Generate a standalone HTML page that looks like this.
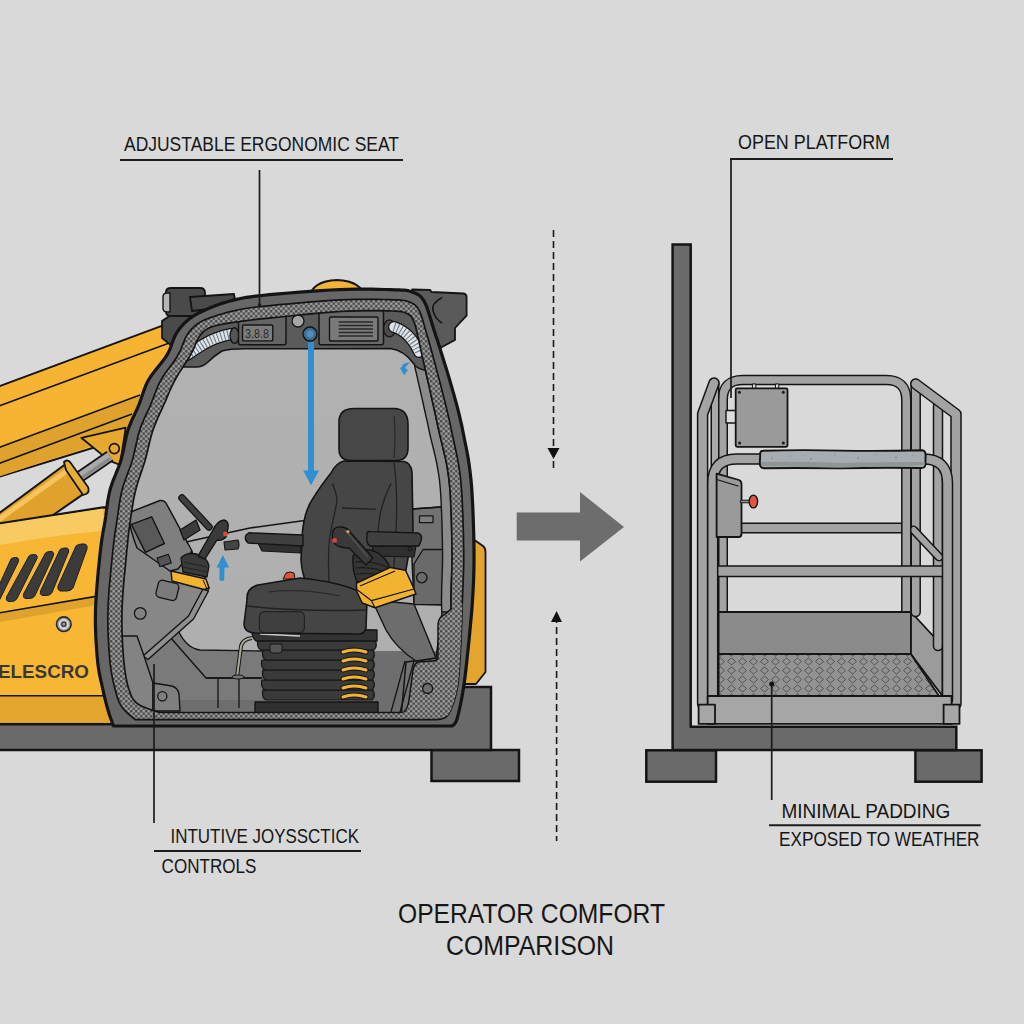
<!DOCTYPE html>
<html><head><meta charset="utf-8">
<style>
html,body{margin:0;padding:0;background:#d9d9d9;width:1024px;height:1024px;overflow:hidden}
svg{display:block}
text{font-family:"Liberation Sans",sans-serif;fill:#161616}
</style></head>
<body>
<svg width="1024" height="1024" viewBox="0 0 1024 1024">
<defs>
<pattern id="mesh" width="5" height="5" patternUnits="userSpaceOnUse">
<rect width="5" height="5" fill="#8c8c8c"/>
<circle cx="1.2" cy="1.2" r="1.35" fill="#4e4e4e"/>
<circle cx="3.7" cy="3.7" r="1.35" fill="#555"/>
<circle cx="3.7" cy="1.2" r="0.6" fill="#b4b4b4"/>
<circle cx="1.2" cy="3.7" r="0.6" fill="#aaa"/>
</pattern>
<pattern id="plate" width="11" height="9" patternUnits="userSpaceOnUse">
<rect width="11" height="9" fill="#929292"/>
<path d="M5.5,1 Q8,3 9.5,4.5 Q8,6 5.5,8 Q3,6 1.5,4.5 Q3,3 5.5,1 Z" fill="none" stroke="#4a4a4a" stroke-width="0.9"/>
</pattern>
<linearGradient id="win" x1="0" y1="0" x2="0" y2="1">
<stop offset="0" stop-color="#b2b2b2"/><stop offset="1" stop-color="#aeaeae"/>
</linearGradient>
</defs>
<rect width="1024" height="1024" fill="#d9d9d9"/>

<!-- LABELS -->
<g id="labels">
<text x="124" y="150.5" font-size="20" textLength="275" lengthAdjust="spacingAndGlyphs">ADJUSTABLE ERGONOMIC SEAT</text>
<line x1="120" y1="160" x2="403" y2="160" stroke="#1c1c1c" stroke-width="2"/>

<text x="738" y="148.7" font-size="20" textLength="152" lengthAdjust="spacingAndGlyphs">OPEN PLATFORM</text>
<line x1="730" y1="159" x2="893" y2="159" stroke="#1c1c1c" stroke-width="2"/>

<text x="781.4" y="818" font-size="19.5" textLength="169" lengthAdjust="spacingAndGlyphs">MINIMAL PADDING</text>
<line x1="769" y1="825.3" x2="980.7" y2="825.3" stroke="#1c1c1c" stroke-width="2"/>
<text x="779" y="846" font-size="19.5" textLength="200.5" lengthAdjust="spacingAndGlyphs">EXPOSED TO WEATHER</text>

<text x="170.5" y="842.5" font-size="20" textLength="188.5" lengthAdjust="spacingAndGlyphs">INTUTIVE JOYSSCTICK</text>
<line x1="154" y1="851" x2="361" y2="851" stroke="#1c1c1c" stroke-width="2"/>
<text x="161.6" y="872.7" font-size="20" textLength="94.7" lengthAdjust="spacingAndGlyphs">CONTROLS</text>

<text x="398" y="922.5" font-size="28" textLength="267" lengthAdjust="spacingAndGlyphs">OPERATOR COMFORT</text>
<text x="446" y="955" font-size="27" textLength="168" lengthAdjust="spacingAndGlyphs">COMPARISON</text>
</g>

<!-- CENTER ARROWS -->
<g id="center">
<line x1="553.5" y1="230" x2="553.5" y2="470" stroke="#1a1a1a" stroke-width="1.6" stroke-dasharray="7,4"/>
<path d="M547.5,448 L559.5,448 L553.5,459 Z" fill="#111"/>
<line x1="556.6" y1="616" x2="556.6" y2="841" stroke="#1a1a1a" stroke-width="1.6" stroke-dasharray="7,4"/>
<path d="M551,622 L562,622 L556.6,611 Z" fill="#111"/>
<path d="M516.7,512.6 L580,512.6 L580,492 L624,527 L580,561.4 L580,540.4 L516.7,540.4 Z" fill="#6d6d6d"/>
</g>

<!-- LEFT BASE -->
<g id="lbase" stroke="#141414" stroke-width="2.5" fill="#6a6a6a">
<rect x="431.5" y="750" width="87.5" height="31"/>
<path d="M-5,724 L445,724 L445,687 L491,687 L491,750 L-5,750 Z"/>
</g>
<!-- MACHINE -->
<g id="machine" stroke-linejoin="round">
<!-- boom -->
<path d="M-5,387.9 L190,315.4 L190,418 L-5,478 Z" fill="#f6b432" stroke="#141414" stroke-width="2"/>
<path d="M-5,449 L140,395 L140,430 L-5,478 Z" fill="#dfa22c"/>
<g stroke="#141414" stroke-width="1.6" fill="none">
<line x1="-5" y1="407.4" x2="172" y2="342"/>
<line x1="-5" y1="448.9" x2="140" y2="395"/>
<line x1="-5" y1="464.9" x2="132" y2="414"/>
</g>
<!-- bracket -->
<path d="M81.3,437.8 L125.7,427.6 L120,465 L109.2,460.6 Z" fill="#e6a82e" stroke="#141414" stroke-width="1.8"/>
<circle cx="114.3" cy="448.6" r="5" fill="#e6a82e" stroke="#141414" stroke-width="1.6"/>
<!-- rod -->
<path d="M78,478 L110,456" stroke="#141414" stroke-width="12" stroke-linecap="butt"/>
<path d="M78,478 L110,456" stroke="#a9a9a9" stroke-width="8.5" stroke-linecap="butt"/>
<path d="M78,480.5 L110,458.5" stroke="#888" stroke-width="3" stroke-linecap="butt"/>
<!-- cylinder -->
<path d="M-10,520 L66,463.8 L87.6,491.1 L10,545 Z" fill="#e0a22c" stroke="#141414" stroke-width="2"/>
<path d="M-10,526 L68,470" stroke="#f6c45a" stroke-width="5"/>
<path d="M64,462 Q67,459 70,462 L88,487 Q90,492 86,494 L83,495 L66,470 Z" fill="#e8ad35" stroke="#141414" stroke-width="1.8"/>
<!-- body -->
<path d="M-5,524.4 L103,507.5 L125,507 L125,724 L-5,724 Z" fill="#f7b735" stroke="#141414" stroke-width="2.5"/>
<path d="M-5,525 L103,508.5 L104,531 Q60,534 -5,546 Z" fill="#f8cb62"/>
<path d="M-5,613.6 L96,596.4 L97,605 L-5,623 Z" fill="#dfa22c"/>
<path d="M-5,613.6 L96,596.4" stroke="#141414" stroke-width="1.6"/>
<path d="M-5,696 L110,696 L110,723 L-5,723 Z" fill="#e3a52e"/>
<line x1="-5" y1="695.8" x2="110" y2="695.8" stroke="#141414" stroke-width="1.6"/>
<g fill="#3b3b3b" stroke="#1e1e1e" stroke-width="1">
<path d="M76,546 Q78,544 82,544 L85,544 Q88,545 87,549 L73,588 Q71,591 67,591 L60,591 Q57,590 58,586 Z"/>
<path d="M60,549.5 Q62,548 65,548 L67,548 Q69.5,549 68.5,552 L52,592.5 Q50.5,595.5 46.5,595.5 L42,595.5 Q39.5,594.5 40.5,591 Z"/>
<path d="M45.5,553 Q47,551.5 50,551.5 L52,551.5 Q54.5,552.5 53.5,555.5 L35,595.5 Q33.5,598.5 29.5,598.5 L25,598.5 Q22.5,597.5 23.5,594 Z"/>
<path d="M29,556 Q30.5,554.5 33.5,554.5 L35.5,554.5 Q38,555.5 37,558.5 L17,598.5 Q15.5,601.5 11.5,601.5 L8,601.5 Q5.5,600.5 6.5,597 Z"/>
<path d="M11,559 Q12.5,557.5 15.5,557.5 L17,557.5 Q19.5,558.5 18.5,561.5 L-1,601 L-8,601 Z"/>
</g>
<circle cx="63.8" cy="624.2" r="7.3" fill="#9c9c9c" stroke="#2a2a2a" stroke-width="1.6"/>
<circle cx="63.8" cy="624.2" r="4.3" fill="none" stroke="#eee" stroke-width="1.3"/>
<circle cx="63.8" cy="624.2" r="2" fill="none" stroke="#3a3a3a" stroke-width="1.2"/>
<text x="-2" y="678.3" font-size="18" font-weight="bold" style="fill:#3b3833" textLength="91" lengthAdjust="spacingAndGlyphs">ELESCRO</text>
<!-- yellow dome behind roof -->
<path d="M309,298 Q312,281 337,280 Q362,281 365,298 Z" fill="#f1b437" stroke="#141414" stroke-width="1.8"/>
<!-- yellow fender right -->
<path d="M462,540 L473,539 L483,546 Q485.5,548 485.5,552 L485.5,672 L476,684 L462,684 Z" fill="#e3a52f" stroke="#141414" stroke-width="1.8"/>
<!-- roof light blocks -->
<path d="M162,321 L186,305 L202,305 L192,330 L172,346 L162,338 Z" fill="#4a4a4a" stroke="#141414" stroke-width="1.8"/>
<path d="M166,292 Q166,288 171,288 L200,288 Q205,288 205,293 L205,312 Q205,316 200,316 L171,316 Q166,316 166,312 Z" fill="#4a4a4a" stroke="#141414" stroke-width="1.8"/>
<path d="M163,297 Q163,293 167,293 L170,293 L170,312 L167,312 Q163,312 163,308 Z" fill="#b5b5b5" stroke="#141414" stroke-width="1.4"/>
<path d="M190,297 L234,294 L236,306 L192,311 Z" fill="#4a4a4a" stroke="#141414" stroke-width="1.8"/>
<path d="M412,289.5 L430,289.8 L431.5,292 L463.5,293.5 Q466.5,294 466.6,297 L466.6,315.6 L455,328 L455,340 L441,347.5 L425,335 Z" fill="#5a5a5a" stroke="#141414" stroke-width="1.8"/>
<path d="M442.3,297.3 Q430,304 433.4,312 Q436,320 442.3,323" fill="none" stroke="#141414" stroke-width="1.5"/>
<!-- cab frame -->
<path d="M113.4,726.0L113.0,724.8L112.4,723.2L111.8,721.3L111.0,719.2L110.2,717.0L109.4,714.7L108.7,712.3L108.0,710.0L107.4,707.8L106.7,705.5L106.1,703.2L105.5,700.9L104.9,698.4L104.3,695.8L103.6,693.0L103.0,690.0L102.3,686.9L101.6,683.7L100.8,680.4L100.1,676.9L99.3,673.2L98.6,669.1L98.0,664.8L97.5,660.0L97.0,654.8L96.6,649.1L96.2,643.2L95.8,636.9L95.6,630.4L95.4,623.7L95.4,616.9L95.5,610.0L95.8,602.8L96.3,595.0L96.9,586.9L97.6,578.8L98.3,570.7L99.1,563.1L99.8,556.1L100.5,550.0L101.1,544.8L101.7,540.4L102.3,536.6L102.9,533.1L103.4,529.9L104.0,526.8L104.6,523.5L105.2,520.0L105.8,516.2L106.2,512.5L106.7,508.8L107.2,505.0L107.7,501.2L108.4,497.5L109.1,493.8L110.0,490.0L111.1,486.2L112.4,482.5L113.8,478.8L115.4,475.0L116.9,471.2L118.4,467.5L119.8,463.8L121.0,460.0L122.0,456.2L122.9,452.4L123.8,448.5L124.5,444.7L125.3,440.9L126.1,437.1L127.0,433.5L128.0,430.0L129.2,426.6L130.5,423.4L131.8,420.3L133.2,417.2L134.7,414.2L136.1,411.1L137.5,408.1L138.8,405.0L140.0,401.9L141.1,398.8L142.1,395.6L143.2,392.5L144.3,389.4L145.5,386.2L146.9,383.1L148.5,380.0L150.5,376.8L152.7,373.7L155.2,370.4L157.8,367.2L160.4,364.1L162.8,361.0L165.1,357.9L167.0,355.0L168.6,352.1L169.8,349.3L170.9,346.5L171.9,343.8L172.8,341.2L173.8,338.7L174.8,336.3L176.0,334.0L177.3,331.9L178.7,329.9L180.1,328.0L181.6,326.3L183.1,324.6L184.6,323.0L186.3,321.5L188.0,320.0L189.7,318.6L191.5,317.3L193.3,316.1L195.1,315.0L197.1,313.9L199.2,312.8L201.5,311.7L204.0,310.5L206.7,309.3L209.7,308.0L212.8,306.8L216.0,305.5L219.4,304.3L222.8,303.1L226.4,302.0L230.0,301.0L233.4,300.1L236.5,299.4L239.5,298.7L242.8,298.0L246.4,297.4L250.6,296.8L255.8,296.2L262.0,295.5L269.7,294.7L278.8,293.9L288.9,293.0L299.6,292.2L310.4,291.4L321.0,290.7L331.0,290.0L340.0,289.6L348.2,289.3L356.3,289.2L364.0,289.1L371.3,289.2L378.2,289.3L384.5,289.5L390.1,289.6L395.0,289.8L399.0,289.9L402.0,290.1L404.4,290.2L406.2,290.3L407.7,290.6L409.0,290.9L410.4,291.4L412.0,292.0L413.8,292.7L415.4,293.3L417.0,294.0L418.4,294.8L419.9,295.9L421.3,297.2L422.6,298.9L424.0,301.0L425.4,303.7L426.7,306.9L428.0,310.6L429.2,314.5L430.5,318.5L431.7,322.6L432.9,326.4L434.0,330.0L435.1,333.2L436.0,336.2L437.0,339.0L437.9,341.8L438.8,344.7L439.8,347.8L440.8,351.2L442.0,355.0L443.3,359.3L444.8,364.1L446.4,369.1L448.0,374.4L449.6,379.7L451.1,385.0L452.6,390.1L454.0,395.0L455.2,399.5L456.4,403.8L457.5,407.8L458.5,411.9L459.5,416.0L460.5,420.3L461.6,424.9L462.6,430.0L463.7,435.4L464.8,441.0L466.0,446.8L467.2,452.8L468.3,459.1L469.3,465.7L470.2,472.7L471.0,480.0L471.7,487.9L472.2,496.6L472.7,505.7L473.1,515.0L473.4,524.3L473.7,533.4L473.9,542.1L474.0,550.0L474.0,557.2L474.0,563.9L473.9,570.2L473.7,576.2L473.5,582.1L473.2,588.0L472.9,593.9L472.5,600.0L472.1,606.3L471.6,612.8L471.0,619.2L470.4,625.7L469.8,632.1L469.2,638.3L468.6,644.3L468.0,650.0L467.4,655.5L466.9,660.7L466.3,665.8L465.8,670.8L465.2,675.5L464.6,680.1L464.0,684.6L463.3,689.0L462.6,693.3L461.8,697.7L461.0,701.9L460.2,706.0L459.3,709.8L458.5,713.3L457.7,716.4L457.0,719.0L456.3,721.0L455.5,722.5L454.8,723.6L454.1,724.4L453.5,724.9L452.9,725.3L452.4,725.6L452.0,726.0Z" fill="#676767" stroke="#141414" stroke-width="3.2"/>
<path d="M135.3,719.7L134.2,718.7L132.8,717.5L131.0,716.1L129.1,714.5L127.2,712.8L125.3,710.9L123.5,709.1L122.1,707.2L120.9,705.3L119.9,703.5L119.0,701.6L118.2,699.6L117.4,697.4L116.7,695.1L116.0,692.6L115.2,689.8L114.4,686.8L113.7,683.7L112.9,680.4L112.2,676.9L111.5,673.2L110.9,669.2L110.3,664.8L109.8,660.0L109.4,654.8L108.9,649.2L108.6,643.2L108.2,636.9L108.0,630.4L107.9,623.7L107.8,616.9L108.0,610.0L108.3,602.8L108.7,595.0L109.3,586.9L110.1,578.8L110.8,570.7L111.6,563.1L112.3,556.1L112.9,550.0L113.5,544.8L114.0,540.4L114.5,536.6L115.0,533.1L115.5,529.9L116.0,526.8L116.5,523.5L117.0,520.0L117.6,516.2L118.1,512.5L118.6,508.8L119.2,505.0L119.8,501.2L120.4,497.5L121.2,493.8L122.1,490.0L123.1,486.2L124.4,482.5L125.7,478.8L127.1,475.0L128.5,471.2L129.9,467.5L131.2,463.8L132.4,460.0L133.4,456.2L134.3,452.4L135.2,448.5L136.0,444.7L136.9,440.9L137.7,437.1L138.7,433.5L139.8,430.0L140.9,426.6L142.2,423.4L143.5,420.3L144.9,417.2L146.3,414.2L147.8,411.1L149.2,408.1L150.5,405.0L151.8,401.9L153.0,398.8L154.2,395.6L155.3,392.5L156.6,389.4L157.9,386.2L159.3,383.1L161.0,380.0L162.8,376.8L165.0,373.6L167.2,370.4L169.6,367.2L172.0,364.0L174.2,360.9L176.3,357.9L178.0,355.0L179.5,352.2L180.8,349.5L181.9,346.9L182.8,344.4L183.8,341.9L184.7,339.6L185.7,337.4L186.8,335.4L188.0,333.6L189.2,331.9L190.5,330.3L191.7,328.9L193.1,327.6L194.4,326.3L195.9,325.2L197.4,324.0L199.0,322.9L200.6,321.9L202.2,321.1L203.9,320.2L205.7,319.4L207.7,318.7L209.8,317.9L212.0,317.1L214.4,316.2L217.0,315.4L219.7,314.5L222.5,313.7L225.4,312.9L228.4,312.1L231.5,311.3L234.7,310.6L237.6,310.0L240.2,309.5L242.7,309.0L245.4,308.5L248.5,308.0L252.3,307.5L257.0,307.0L262.9,306.4L270.4,305.6L279.3,304.7L289.3,303.8L299.9,302.9L310.7,301.9L321.2,301.1L331.2,300.4L340.0,299.9L348.1,299.6L355.9,299.4L363.4,299.3L370.6,299.3L377.2,299.3L383.3,299.5L388.8,299.6L393.6,299.8L397.5,299.9L400.5,300.1L402.8,300.3L404.6,300.5L406.1,300.8L407.4,301.2L408.7,301.7L410.1,302.3L411.6,303.0L413.0,303.7L414.2,304.5L415.3,305.4L416.3,306.4L417.3,307.6L418.3,309.1L419.3,310.9L420.3,313.0L421.3,315.5L422.2,318.3L423.1,321.3L424.0,324.4L424.8,327.5L425.7,330.5L426.5,333.3L427.2,335.8L427.9,338.1L428.6,340.3L429.2,342.5L429.9,344.9L430.6,347.5L431.4,350.5L432.4,354.1L433.5,358.3L434.8,363.0L436.2,368.2L437.6,373.6L439.1,379.2L440.6,384.7L441.9,390.0L443.2,395.0L444.3,399.6L445.4,403.8L446.4,407.9L447.4,411.9L448.3,416.0L449.3,420.3L450.3,424.9L451.4,430.0L452.5,435.4L453.8,441.0L455.0,446.8L456.3,452.8L457.6,459.1L458.8,465.7L459.8,472.7L460.7,480.0L461.4,487.9L462.0,496.6L462.4,505.7L462.8,515.0L463.1,524.3L463.4,533.4L463.5,542.1L463.7,550.0L463.7,557.2L463.7,563.9L463.5,570.2L463.3,576.2L463.1,582.1L462.9,588.0L462.6,593.9L462.4,600.0L462.2,606.3L462.0,612.7L461.8,619.2L461.6,625.7L461.3,632.0L461.1,638.2L460.8,644.3L460.5,650.0L460.2,655.5L459.9,660.9L459.5,666.2L459.2,671.3L458.8,676.2L458.3,680.8L457.8,685.3L457.0,689.5L456.2,693.5L455.2,697.3L454.2,700.9L453.0,704.3L451.8,707.4L450.6,710.2L449.3,712.7L448.1,714.8L446.7,716.4L445.2,717.5L443.6,718.3L442.0,718.8L440.4,719.1L439.0,719.3L437.8,719.4L437.0,719.7Z" fill="url(#mesh)" stroke="#141414" stroke-width="1.7"/>
<clipPath id="inclip"><path d="M160.0,712.5L158.2,711.9L155.7,711.1L152.8,710.2L149.6,709.2L146.3,708.0L143.1,706.7L140.3,705.4L138.0,704.0L136.2,702.6L134.7,701.1L133.5,699.7L132.5,698.1L131.5,696.3L130.7,694.3L129.9,692.1L129.0,689.5L128.1,686.7L127.3,683.7L126.6,680.4L125.9,677.0L125.3,673.2L124.7,669.2L124.2,664.8L123.7,660.0L123.3,654.8L122.9,649.2L122.5,643.2L122.2,636.9L122.0,630.4L121.9,623.7L121.9,616.9L122.0,610.0L122.3,602.8L122.8,595.0L123.4,586.9L124.1,578.8L124.9,570.7L125.6,563.1L126.3,556.1L126.9,550.0L127.4,544.8L127.8,540.4L128.2,536.6L128.6,533.1L129.0,529.9L129.4,526.8L129.9,523.5L130.4,520.0L130.9,516.2L131.5,512.5L132.1,508.8L132.7,505.0L133.3,501.2L134.0,497.5L134.8,493.8L135.7,490.0L136.7,486.2L137.8,482.5L139.0,478.8L140.3,475.0L141.6,471.2L142.8,467.5L144.1,463.8L145.2,460.0L146.2,456.2L147.2,452.4L148.1,448.5L149.0,444.7L149.9,440.9L150.9,437.1L151.9,433.5L153.0,430.0L154.2,426.6L155.5,423.4L156.8,420.3L158.1,417.2L159.5,414.2L160.9,411.1L162.3,408.1L163.7,405.0L165.1,401.9L166.4,398.8L167.7,395.6L169.0,392.5L170.4,389.4L171.9,386.2L173.4,383.1L175.0,380.0L176.8,376.8L178.7,373.6L180.8,370.3L182.9,367.1L185.0,363.9L187.0,360.8L188.9,357.8L190.5,355.0L191.9,352.4L193.1,349.8L194.2,347.3L195.2,345.0L196.1,342.7L197.0,340.7L198.0,338.7L199.0,337.0L200.1,335.5L201.1,334.1L202.2,332.9L203.2,331.9L204.3,330.9L205.5,330.1L206.7,329.3L208.0,328.5L209.4,327.8L210.8,327.2L212.3,326.6L213.9,326.2L215.5,325.7L217.2,325.3L219.1,324.9L221.0,324.5L223.1,324.1L225.2,323.7L227.5,323.3L229.8,322.9L232.2,322.6L234.8,322.2L237.3,321.9L240.0,321.5L242.4,321.2L244.4,320.9L246.3,320.6L248.4,320.3L251.0,320.0L254.2,319.6L258.5,319.2L264.0,318.6L271.2,317.9L279.9,317.0L289.7,316.0L300.2,314.9L311.0,313.9L321.5,312.9L331.3,312.1L340.0,311.5L347.9,311.1L355.5,310.8L362.8,310.7L369.8,310.6L376.2,310.6L382.1,310.7L387.4,310.8L392.0,311.0L395.8,311.2L398.8,311.4L401.1,311.6L402.9,312.0L404.3,312.4L405.5,312.8L406.7,313.4L408.0,314.0L409.2,314.7L410.2,315.5L411.1,316.3L411.8,317.2L412.3,318.3L412.9,319.4L413.4,320.6L414.0,322.0L414.6,323.5L415.2,325.2L415.7,327.1L416.2,329.0L416.6,331.0L417.1,333.0L417.5,335.0L418.0,337.0L418.4,338.8L418.8,340.3L419.1,341.8L419.4,343.3L419.8,345.1L420.2,347.1L420.8,349.7L421.5,353.0L422.4,357.1L423.5,361.8L424.7,367.2L426.0,372.8L427.3,378.6L428.6,384.4L429.9,389.9L431.0,395.0L432.0,399.6L433.0,403.9L433.9,408.0L434.8,412.0L435.7,416.1L436.6,420.4L437.6,425.0L438.7,430.0L439.9,435.4L441.3,441.0L442.7,446.8L444.1,452.8L445.6,459.1L446.9,465.7L448.0,472.7L449.0,480.0L449.8,487.9L450.4,496.6L450.8,505.7L451.2,515.0L451.5,524.3L451.7,533.4L451.9,542.1L452.0,550.0L452.1,557.2L452.0,563.9L451.8,570.2L451.6,576.2L451.4,582.1L451.2,588.0L451.1,593.9L451.0,600.0L451.0,606.3L451.2,612.7L451.4,619.2L451.6,625.6L451.8,632.0L451.9,638.2L452.0,644.2L452.0,650.0L452.0,655.6L451.9,661.2L451.9,666.6L451.8,671.9L451.6,676.9L451.3,681.6L450.7,686.0L450.0,690.0L449.0,693.6L447.8,696.8L446.5,699.7L445.0,702.3L443.4,704.7L441.7,706.7L439.9,708.5L438.0,710.0L435.9,711.2L433.5,711.9L430.9,712.3L428.2,712.5L425.7,712.5L423.4,712.5L421.4,712.4L420.0,712.5Z"/></clipPath>
<g clip-path="url(#inclip)">
<rect x="100" y="280" width="380" height="460" fill="url(#win)"/>
<!--INTERIOR-->
<!-- window fill -->
<rect x="90" y="280" width="390" height="460" fill="url(#win)"/>
<!-- floor / lower interior base -->
<path d="M90,651 L470,651 L470,730 L90,730 Z" fill="#6e6e6e"/>
<!-- right panel -->
<path d="M412,509 L470,505 L470,730 L400,730 L406,662 L436,658 L443,605 L414,604 L412,560 Z" fill="#727272" stroke="#141414" stroke-width="1.5"/>
<path d="M423,549.5 L443,549.5 L443,604.6 L414,604.6 L414,564 Z" fill="#6a6a6a" stroke="#141414" stroke-width="1.3"/>
<circle cx="421.8" cy="577.6" r="5.2" fill="none" stroke="#141414" stroke-width="1.3"/>
<rect x="419.5" y="515.8" width="13.5" height="6.8" fill="#7e7e7e" stroke="#141414" stroke-width="1.2"/>
<circle cx="447.6" cy="516.5" r="2.8" fill="none" stroke="#141414" stroke-width="1.1"/>
<path d="M412,509 L441,507" stroke="#141414" stroke-width="1.5"/>
<!-- mesh arch bottom right -->

<!-- slanted panel under right joystick -->
<path d="M372,600 L414,604 L436,658 L416,661 Q396,648 386,630 Z" fill="#6d6d6d" stroke="#141414" stroke-width="1.4"/>
<path d="M405,661 L391,712 M414,661 L400,712" stroke="#141414" stroke-width="1.3"/>
<!-- floor step panel -->
<path d="M146,660 L178,630 Q186,648 200,650 L262,651 L262,700 L150,700 Z" fill="#7a7a7a"/>
<path d="M178,630 Q186,648 200,650 L262,651" fill="none" stroke="#141414" stroke-width="1.4"/>
<path d="M170,637 L206,678 L262,678" fill="none" stroke="#141414" stroke-width="1.4"/>
<path d="M206,678 L262,678 M218,678 L218,708 M239,678 L239,708" stroke="#141414" stroke-width="1.3" fill="none"/>
<!-- left console -->
<path d="M118,505 L130,513 L163,501 L200,566 L209,588 L193,617 L145,656 L118,660 Z" fill="#878787" stroke="#141414" stroke-width="1.4"/>
<path d="M203,589 L188.5,616 L143,656 L148,659.5 L193.5,619 L208.5,591 Z" fill="#8f8f8f" stroke="#141414" stroke-width="1.4"/>
<path d="M118,636 L137,636 L144,656 L153,683 L153,711 L118,711 Z" fill="#838383" stroke="#141414" stroke-width="1.4"/>
<path d="M153,683 L172,686 Q178,688 179,694 L180,711 L153,711 Z" fill="#7f7f7f" stroke="#141414" stroke-width="1.4"/>
<circle cx="162.3" cy="696.2" r="4.6" fill="none" stroke="#141414" stroke-width="1.3"/>
<circle cx="140.2" cy="613.4" r="5.8" fill="#828282" stroke="#141414" stroke-width="1.3"/>
<rect x="157" y="581.6" width="21" height="17.5" rx="4" transform="rotate(14 167.5 590)" fill="#7a7a7a" stroke="#141414" stroke-width="1.3"/>
<!-- screen housing -->
<path d="M128,513 L160,500.5 Q164,500 166,503 L192,551 L178,569 L170,571 L137,548 Q130,530 128,513 Z" fill="#7f7f7f" stroke="#141414" stroke-width="1.5"/>
<path d="M131.4,524.4 L151.7,516.8 L164.4,543.5 L145.4,552.4 Z" fill="#595959" stroke="#141414" stroke-width="1.4"/>
<rect x="158" y="556" width="12" height="9" transform="rotate(-18 164 560)" fill="#555" stroke="#141414" stroke-width="1.1"/>
<!-- dashboard sill -->
<path d="M186,542 L250,528 L301,521 L412,509" stroke="#141414" stroke-width="1.6" fill="none"/>
<!-- steering lever -->
<path d="M182,498 L209,527" stroke="#141414" stroke-width="7.5" stroke-linecap="round"/>
<path d="M182,498 L209,527" stroke="#3e3e3e" stroke-width="5" stroke-linecap="round"/>
<path d="M180,530 L196,520 L200,530 L184,540 Z" fill="#3d3d3d" stroke="#141414" stroke-width="1.3"/>
<!-- left joystick -->
<path d="M181,558 Q186,552 197,554 Q208,558 209,566 L207,577 L183,572 Z" fill="#3a3a3a" stroke="#141414" stroke-width="1.3"/>
<path d="M184,562 L207,567 M183,567 L207,572" stroke="#222" stroke-width="1"/>
<path d="M198,556 L213,530 Q217,521 224,520 Q229,521 228,528 L226,537 Q222,541 217,540 L205,559 Z" fill="#3a3a3a" stroke="#141414" stroke-width="1.4"/>
<circle cx="225.4" cy="534" r="2.4" fill="#d9483a"/>
<path d="M171,571 L206,579 L209,588 L204,589.5 L172,581 Z" fill="#f2b430" stroke="#141414" stroke-width="1.4"/>
<path d="M203,580 L207,589" stroke="#141414" stroke-width="1"/>
<path d="M224,542 L238,540 Q240,545 238,549 L225,550 Z" fill="#444" stroke="#141414" stroke-width="1.1"/>
<!-- pillar -->
<path d="M451.0,606.3L451.0,600.0L451.1,593.9L451.2,588.0L451.4,582.1L451.6,576.2L451.8,570.2L452.0,563.9L452.1,557.2L452.0,550.0L451.9,542.1L451.7,533.4L451.5,524.3L451.2,515.0L450.8,505.7L450.4,496.6L449.8,487.9L449.0,480.0L448.0,472.7L446.9,465.7L445.6,459.1L444.1,452.8L442.7,446.8L441.3,441.0L439.9,435.4L438.7,430.0L437.6,425.0L436.6,420.4L435.7,416.1L434.8,412.0L433.9,408.0L433.0,403.9L432.0,399.6L431.0,395.0L429.9,389.9L428.6,384.4L427.3,378.6L426.0,372.8L424.7,367.2L424.4,366.0L414.7,366.0L415.4,369.3L416.7,374.9L418.0,380.7L419.3,386.5L420.6,392.0L421.7,397.1L422.8,401.7L423.7,406.0L424.6,410.0L425.5,414.1L426.4,418.1L427.4,422.4L428.3,426.9L429.4,432.0L429.4,432.1L430.6,437.5L430.7,437.6L432.0,443.2L432.0,443.3L433.5,449.0L434.9,455.0L436.3,461.1L437.5,467.5L438.6,474.1L439.6,481.1L440.3,488.7L440.9,497.1L441.3,506.1L441.7,515.3L442.0,524.6L442.2,533.6L442.4,542.2L442.5,550.1L442.6,557.2L442.5,563.7L442.3,569.9L442.1,575.9L441.9,581.8L441.9,581.8L441.7,587.6L441.7,587.7L441.6,593.7L441.6,593.8L441.5,599.9L441.5,600.1L441.6,606.4L441.6,606.5L441.7,612.0L451.2,612.0L451.0,606.3Z" fill="#8b8b8b" stroke="#141414" stroke-width="1.4"/>
<!-- headliner -->
<path d="M150,290 L450,290 L450,372 L424,370 Q416,368 414,364 Q404,350 390,348.5 L320,348.8 L250,348.8 Q230,348.5 222,351 Q214,356 208,362 Q203,367 196,367 L180,367 L160,380 Z" fill="#5b5b5b" stroke="#141414" stroke-width="1.6"/>
<path d="M187,355 Q196,349 204,344 Q216,337 231,334" fill="none" stroke="#141414" stroke-width="12" stroke-linecap="round"/>
<path d="M187,355 Q196,349 204,344 Q216,337 231,334" fill="none" stroke="#dfe4ea" stroke-width="9.5" stroke-linecap="round"/>
<path d="M187,355 Q196,349 204,344 Q216,337 231,334" fill="none" stroke="#6f7884" stroke-width="9.5" stroke-dasharray="1.1,2.4"/>
<ellipse cx="234.5" cy="335.6" rx="4.5" ry="7.8" fill="#555" stroke="#141414" stroke-width="1.4"/>
<rect x="238.5" y="315.8" width="47.5" height="29" rx="2" fill="#646464" stroke="#141414" stroke-width="1.5"/>
<rect x="242.5" y="325" width="30.3" height="15.9" rx="1.5" fill="#7c7c7c" stroke="#141414" stroke-width="1.4"/>
<text x="245" y="338" font-size="12" style="fill:#2a2a2a" textLength="24" lengthAdjust="spacingAndGlyphs">3.8.8</text>
<circle cx="298" cy="321" r="6" fill="#a5a5a5" stroke="#141414" stroke-width="1.3"/>
<circle cx="310" cy="334" r="7" fill="#3b6e96" stroke="#141414" stroke-width="1.4"/>
<circle cx="310" cy="334" r="3.5" fill="#5a8cb3"/>
<rect x="319" y="310.5" width="64.5" height="34.3" rx="2" fill="#686868" stroke="#141414" stroke-width="1.5"/>
<rect x="329.5" y="317" width="48.5" height="24" rx="1.5" fill="#7a7a7a" stroke="#141414" stroke-width="1.4"/>
<g stroke="#2a2a2a" stroke-width="1.4"><line x1="338.7" y1="322" x2="373" y2="322"/><line x1="338.7" y1="325.5" x2="373" y2="325.5"/><line x1="338.7" y1="329" x2="373" y2="329"/><line x1="338.7" y1="332.5" x2="373" y2="332.5"/><line x1="338.7" y1="336" x2="373" y2="336"/></g>
<ellipse cx="389.5" cy="328.4" rx="6" ry="8.5" fill="#4a4a4a" stroke="#141414" stroke-width="1.4"/>
<path d="M394,327 Q410,332 419,352" fill="none" stroke="#141414" stroke-width="12" stroke-linecap="round"/>
<path d="M394,327 Q410,332 419,352" fill="none" stroke="#dfe4ea" stroke-width="9.5" stroke-linecap="round"/>
<path d="M394,327 Q410,332 419,352" fill="none" stroke="#6f7884" stroke-width="9.5" stroke-dasharray="1.1,2.4"/>
<!-- blue arrows -->
<rect x="308" y="342" width="6" height="130" fill="#2f8fd1"/>
<path d="M303.2,470.6 L319.1,470.6 L311,485.2 Z" fill="#2f8fd1"/>
<path d="M404,375 L408,370 L405,368 L410,362 L403,364 L402,367 L400,368 Z" fill="#2f8fd1"/>
<!-- seat base bellows -->
<path d="M255,702 L378,702 L378,716 L255,716 Z" fill="#2f2f2f" stroke="#141414" stroke-width="1.4"/>
<g fill="#3a3a3a" stroke="#141414" stroke-width="1.2">
<path d="M263,690 Q261,697 266,700 L372,700 Q376,696 373,690 Z"/>
<path d="M262,680 Q260,687 265,690 L372,690 Q376,686 373,680 Z"/>
<path d="M263,670 Q261,677 266,680 L372,680 Q376,676 373,670 Z"/>
<path d="M262,660 Q260,667 265,670 L372,670 Q376,666 373,660 Z"/>
<path d="M263,650 Q261,657 266,660 L372,660 Q376,656 373,650 Z"/>
<path d="M258,640 Q256,647 261,650 L374,650 Q378,646 375,640 Z"/>
</g>
<rect x="270" y="644" width="12" height="9" rx="2" fill="#555" stroke="#141414" stroke-width="1"/>
<g fill="none" stroke-linecap="round">
<path d="M343,652 Q354,648 366,652 M343,661 Q354,657 366,661 M343,670 Q354,666 366,670 M343,679 Q354,675 366,679 M343,688 Q354,684 366,688 M343,697 Q354,693 366,697" stroke="#141414" stroke-width="5"/>
<path d="M343,652 Q354,648 366,652 M343,661 Q354,657 366,661 M343,670 Q354,666 366,670 M343,679 Q354,675 366,679 M343,688 Q354,684 366,688 M343,697 Q354,693 366,697" stroke="#f2b430" stroke-width="3"/>
</g>
<!-- lever -->
<path d="M237,677 L241,646 Q243,639 252,638" fill="none" stroke="#141414" stroke-width="4"/>
<path d="M237,677 L241,646 Q243,639 252,638" fill="none" stroke="#aaa79a" stroke-width="2"/>
<ellipse cx="238" cy="677" rx="6" ry="2" fill="#777" stroke="#141414" stroke-width="1"/>
<!-- red handle -->
<path d="M283,579 L286,573 Q290,571 294,573 L295,579 Z" fill="#d9553c" stroke="#141414" stroke-width="1"/>
<!-- seat top plate -->
<path d="M252,628 L377,630 L377,641 L256,641 Q251,637 252,628 Z" fill="#333" stroke="#141414" stroke-width="1.3"/>
<path d="M260,634 L300,636" stroke="#ccc" stroke-width="1.5"/>
<!-- backrest -->
<path d="M344,461 L404,461.5 Q411,463 412,472 L413,530 L402,592 L318,593 Q303,588 301,560 L302,536 Q304,512 312,500 Q322,484 331,473 Q336,463 344,461 Z" fill="#464646" stroke="#141414" stroke-width="1.6"/>
<path d="M332.4,483.4 Q338,496 336.5,504 Q333,520 329.7,537 Q327,565 330,590 M391,483.4 Q383,500 380,515 Q378,530 377.5,537 M394,463 Q398,490 396,530 Q395,560 392,590 M342,508 L376,509.4" fill="none" stroke="#222" stroke-width="1.3"/>
<!-- headrest -->
<path d="M339,422 Q339,408.5 354,408.5 L394,408.5 Q408,409 408,424 L408,448 Q408,460.5 396,460.5 L351,460.5 Q339,460.5 339,449 Z" fill="#474747" stroke="#141414" stroke-width="1.6"/>
<path d="M394,416 Q396,436 394,458" fill="none" stroke="#2a2a2a" stroke-width="1.3"/>
<!-- left armrest -->
<path d="M257,541 L301,543 L301,553 L262,551 Z" fill="#303030" stroke="#141414" stroke-width="1.2"/>
<path d="M246,535 Q244,540 248,543 L303,546 L303,535 L249,532.8 Z" fill="#404040" stroke="#141414" stroke-width="1.4"/>
<!-- seat cushion -->
<path d="M247,600 Q246,588 258,585 L300,578 Q340,582 360,592 L367,600 L366,628 Q365,634 358,634 L254,633 Q244,632 244,624 Z" fill="#454545" stroke="#141414" stroke-width="1.6"/>
<path d="M247,606 Q300,612 366,610" fill="none" stroke="#222" stroke-width="1.3"/>
<rect x="259.4" y="611.6" width="45" height="21" rx="5" fill="#3f3f3f" stroke="#222" stroke-width="1.2"/>
<path d="M268,592 Q300,588 340,596" fill="none" stroke="#2a2a2a" stroke-width="1.1"/>
<!-- right armrest -->
<path d="M372,546 L416,546 L414,557 L375,556 Z" fill="#303030" stroke="#141414" stroke-width="1.2"/>
<path d="M367,535 Q366,531 371,531.6 L418,533 Q423,535 421,541 L419,546 L370,546 Q366,544 367,535 Z" fill="#404040" stroke="#141414" stroke-width="1.4"/>
<circle cx="410" cy="549" r="2" fill="none" stroke="#141414" stroke-width="1"/>
<!-- right joystick -->
<path d="M353,556 Q362,547 374,551 Q386,556 391,570 L392,583 L357,582 Q352,570 353,556 Z" fill="#343434" stroke="#141414" stroke-width="1.4"/>
<path d="M355,562 Q372,560 389,568 M355,568 Q373,566 391,574 M356,574 Q374,572 392,579" fill="none" stroke="#1c1c1c" stroke-width="1.1"/>
<path d="M333,531 Q335,526 342,527 Q348,528 351,533 L373,558 L366,565 L349,548 Q339,548 335,544 Q331,538 333,531 Z" fill="#393939" stroke="#141414" stroke-width="1.4"/>
<path d="M345,530 L368,557" stroke="#555" stroke-width="1.2"/>
<circle cx="334.6" cy="540.4" r="2.4" fill="#d9483a"/>
<circle cx="348" cy="531.6" r="1.6" fill="#c9a45a"/>
<path d="M356.3,583.2 L390.3,567.4 L405.5,570.3 L413.7,587.9 L416,594 L375,607.8 L362.2,603 L357,592 Z" fill="#f2b430" stroke="#141414" stroke-width="1.5"/>
<path d="M357.5,590 L371.5,600.7 L414,589 M371.5,600.7 L375,607.8 M360,586 L395,571" fill="none" stroke="#141414" stroke-width="1.2"/>

<!-- blue up arrow -->
<path d="M216.5,567.6 L222.8,555 L229.2,567.6 L224.5,567.6 L224.2,580 Q222,582 219.5,580 L219.5,567.6 Z" fill="#2f8fd1"/>

</g>
<path d="M160.0,712.5L158.2,711.9L155.7,711.1L152.8,710.2L149.6,709.2L146.3,708.0L143.1,706.7L140.3,705.4L138.0,704.0L136.2,702.6L134.7,701.1L133.5,699.7L132.5,698.1L131.5,696.3L130.7,694.3L129.9,692.1L129.0,689.5L128.1,686.7L127.3,683.7L126.6,680.4L125.9,677.0L125.3,673.2L124.7,669.2L124.2,664.8L123.7,660.0L123.3,654.8L122.9,649.2L122.5,643.2L122.2,636.9L122.0,630.4L121.9,623.7L121.9,616.9L122.0,610.0L122.3,602.8L122.8,595.0L123.4,586.9L124.1,578.8L124.9,570.7L125.6,563.1L126.3,556.1L126.9,550.0L127.4,544.8L127.8,540.4L128.2,536.6L128.6,533.1L129.0,529.9L129.4,526.8L129.9,523.5L130.4,520.0L130.9,516.2L131.5,512.5L132.1,508.8L132.7,505.0L133.3,501.2L134.0,497.5L134.8,493.8L135.7,490.0L136.7,486.2L137.8,482.5L139.0,478.8L140.3,475.0L141.6,471.2L142.8,467.5L144.1,463.8L145.2,460.0L146.2,456.2L147.2,452.4L148.1,448.5L149.0,444.7L149.9,440.9L150.9,437.1L151.9,433.5L153.0,430.0L154.2,426.6L155.5,423.4L156.8,420.3L158.1,417.2L159.5,414.2L160.9,411.1L162.3,408.1L163.7,405.0L165.1,401.9L166.4,398.8L167.7,395.6L169.0,392.5L170.4,389.4L171.9,386.2L173.4,383.1L175.0,380.0L176.8,376.8L178.7,373.6L180.8,370.3L182.9,367.1L185.0,363.9L187.0,360.8L188.9,357.8L190.5,355.0L191.9,352.4L193.1,349.8L194.2,347.3L195.2,345.0L196.1,342.7L197.0,340.7L198.0,338.7L199.0,337.0L200.1,335.5L201.1,334.1L202.2,332.9L203.2,331.9L204.3,330.9L205.5,330.1L206.7,329.3L208.0,328.5L209.4,327.8L210.8,327.2L212.3,326.6L213.9,326.2L215.5,325.7L217.2,325.3L219.1,324.9L221.0,324.5L223.1,324.1L225.2,323.7L227.5,323.3L229.8,322.9L232.2,322.6L234.8,322.2L237.3,321.9L240.0,321.5L242.4,321.2L244.4,320.9L246.3,320.6L248.4,320.3L251.0,320.0L254.2,319.6L258.5,319.2L264.0,318.6L271.2,317.9L279.9,317.0L289.7,316.0L300.2,314.9L311.0,313.9L321.5,312.9L331.3,312.1L340.0,311.5L347.9,311.1L355.5,310.8L362.8,310.7L369.8,310.6L376.2,310.6L382.1,310.7L387.4,310.8L392.0,311.0L395.8,311.2L398.8,311.4L401.1,311.6L402.9,312.0L404.3,312.4L405.5,312.8L406.7,313.4L408.0,314.0L409.2,314.7L410.2,315.5L411.1,316.3L411.8,317.2L412.3,318.3L412.9,319.4L413.4,320.6L414.0,322.0L414.6,323.5L415.2,325.2L415.7,327.1L416.2,329.0L416.6,331.0L417.1,333.0L417.5,335.0L418.0,337.0L418.4,338.8L418.8,340.3L419.1,341.8L419.4,343.3L419.8,345.1L420.2,347.1L420.8,349.7L421.5,353.0L422.4,357.1L423.5,361.8L424.7,367.2L426.0,372.8L427.3,378.6L428.6,384.4L429.9,389.9L431.0,395.0L432.0,399.6L433.0,403.9L433.9,408.0L434.8,412.0L435.7,416.1L436.6,420.4L437.6,425.0L438.7,430.0L439.9,435.4L441.3,441.0L442.7,446.8L444.1,452.8L445.6,459.1L446.9,465.7L448.0,472.7L449.0,480.0L449.8,487.9L450.4,496.6L450.8,505.7L451.2,515.0L451.5,524.3L451.7,533.4L451.9,542.1L452.0,550.0L452.1,557.2L452.0,563.9L451.8,570.2L451.6,576.2L451.4,582.1L451.2,588.0L451.1,593.9L451.0,600.0L451.0,606.3L451.2,612.7L451.4,619.2L451.6,625.6L451.8,632.0L451.9,638.2L452.0,644.2L452.0,650.0L452.0,655.6L451.9,661.2L451.9,666.6L451.8,671.9L451.6,676.9L451.3,681.6L450.7,686.0L450.0,690.0L449.0,693.6L447.8,696.8L446.5,699.7L445.0,702.3L443.4,704.7L441.7,706.7L439.9,708.5L438.0,710.0L435.9,711.2L433.5,711.9L430.9,712.3L428.2,712.5L425.7,712.5L423.4,712.5L421.4,712.4L420.0,712.5Z" fill="none" stroke="#141414" stroke-width="1.7"/>
<clipPath id="midclip"><path d="M135.3,719.7L134.2,718.7L132.8,717.5L131.0,716.1L129.1,714.5L127.2,712.8L125.3,710.9L123.5,709.1L122.1,707.2L120.9,705.3L119.9,703.5L119.0,701.6L118.2,699.6L117.4,697.4L116.7,695.1L116.0,692.6L115.2,689.8L114.4,686.8L113.7,683.7L112.9,680.4L112.2,676.9L111.5,673.2L110.9,669.2L110.3,664.8L109.8,660.0L109.4,654.8L108.9,649.2L108.6,643.2L108.2,636.9L108.0,630.4L107.9,623.7L107.8,616.9L108.0,610.0L108.3,602.8L108.7,595.0L109.3,586.9L110.1,578.8L110.8,570.7L111.6,563.1L112.3,556.1L112.9,550.0L113.5,544.8L114.0,540.4L114.5,536.6L115.0,533.1L115.5,529.9L116.0,526.8L116.5,523.5L117.0,520.0L117.6,516.2L118.1,512.5L118.6,508.8L119.2,505.0L119.8,501.2L120.4,497.5L121.2,493.8L122.1,490.0L123.1,486.2L124.4,482.5L125.7,478.8L127.1,475.0L128.5,471.2L129.9,467.5L131.2,463.8L132.4,460.0L133.4,456.2L134.3,452.4L135.2,448.5L136.0,444.7L136.9,440.9L137.7,437.1L138.7,433.5L139.8,430.0L140.9,426.6L142.2,423.4L143.5,420.3L144.9,417.2L146.3,414.2L147.8,411.1L149.2,408.1L150.5,405.0L151.8,401.9L153.0,398.8L154.2,395.6L155.3,392.5L156.6,389.4L157.9,386.2L159.3,383.1L161.0,380.0L162.8,376.8L165.0,373.6L167.2,370.4L169.6,367.2L172.0,364.0L174.2,360.9L176.3,357.9L178.0,355.0L179.5,352.2L180.8,349.5L181.9,346.9L182.8,344.4L183.8,341.9L184.7,339.6L185.7,337.4L186.8,335.4L188.0,333.6L189.2,331.9L190.5,330.3L191.7,328.9L193.1,327.6L194.4,326.3L195.9,325.2L197.4,324.0L199.0,322.9L200.6,321.9L202.2,321.1L203.9,320.2L205.7,319.4L207.7,318.7L209.8,317.9L212.0,317.1L214.4,316.2L217.0,315.4L219.7,314.5L222.5,313.7L225.4,312.9L228.4,312.1L231.5,311.3L234.7,310.6L237.6,310.0L240.2,309.5L242.7,309.0L245.4,308.5L248.5,308.0L252.3,307.5L257.0,307.0L262.9,306.4L270.4,305.6L279.3,304.7L289.3,303.8L299.9,302.9L310.7,301.9L321.2,301.1L331.2,300.4L340.0,299.9L348.1,299.6L355.9,299.4L363.4,299.3L370.6,299.3L377.2,299.3L383.3,299.5L388.8,299.6L393.6,299.8L397.5,299.9L400.5,300.1L402.8,300.3L404.6,300.5L406.1,300.8L407.4,301.2L408.7,301.7L410.1,302.3L411.6,303.0L413.0,303.7L414.2,304.5L415.3,305.4L416.3,306.4L417.3,307.6L418.3,309.1L419.3,310.9L420.3,313.0L421.3,315.5L422.2,318.3L423.1,321.3L424.0,324.4L424.8,327.5L425.7,330.5L426.5,333.3L427.2,335.8L427.9,338.1L428.6,340.3L429.2,342.5L429.9,344.9L430.6,347.5L431.4,350.5L432.4,354.1L433.5,358.3L434.8,363.0L436.2,368.2L437.6,373.6L439.1,379.2L440.6,384.7L441.9,390.0L443.2,395.0L444.3,399.6L445.4,403.8L446.4,407.9L447.4,411.9L448.3,416.0L449.3,420.3L450.3,424.9L451.4,430.0L452.5,435.4L453.8,441.0L455.0,446.8L456.3,452.8L457.6,459.1L458.8,465.7L459.8,472.7L460.7,480.0L461.4,487.9L462.0,496.6L462.4,505.7L462.8,515.0L463.1,524.3L463.4,533.4L463.5,542.1L463.7,550.0L463.7,557.2L463.7,563.9L463.5,570.2L463.3,576.2L463.1,582.1L462.9,588.0L462.6,593.9L462.4,600.0L462.2,606.3L462.0,612.7L461.8,619.2L461.6,625.7L461.3,632.0L461.1,638.2L460.8,644.3L460.5,650.0L460.2,655.5L459.9,660.9L459.5,666.2L459.2,671.3L458.8,676.2L458.3,680.8L457.8,685.3L457.0,689.5L456.2,693.5L455.2,697.3L454.2,700.9L453.0,704.3L451.8,707.4L450.6,710.2L449.3,712.7L448.1,714.8L446.7,716.4L445.2,717.5L443.6,718.3L442.0,718.8L440.4,719.1L439.0,719.3L437.8,719.4L437.0,719.7Z"/></clipPath>
<g clip-path="url(#midclip)">
<path d="M452,608 Q446,614 441,617 Q438,620 438,626 L438,658 Q437,661 433,661 L418,662 Q414,664 413,670 L409,700 Q408,708 404,712 L398,716 L470,716 L470,600 Z" fill="url(#mesh)"/>
<path d="M452,608 Q446,614 441,617 Q438,620 438,626 L438,658 Q437,661 433,661 L418,662 Q414,664 413,670 L409,700 Q408,708 404,712" fill="none" stroke="#141414" stroke-width="1.5"/>
<circle cx="427.6" cy="688.5" r="5" fill="#6d6d6d" stroke="#141414" stroke-width="1.3"/>
</g>

</g>

<!-- PLATFORM -->
<g id="platform" stroke-linecap="round" stroke-linejoin="round">
<!-- back kick plate -->
<rect x="717.4" y="612" width="193.6" height="42.2" fill="#8b8b8b" stroke="#141414" stroke-width="1.8"/>
<!-- right side kick plate -->
<path d="M911,612 L942.5,646 L942.5,696 L911,654.2 Z" fill="#9b9b9b" stroke="#141414" stroke-width="1.8"/>
<!-- floor -->
<path d="M717.4,654.2 L911,654.2 L939,696 L717.4,696 Z" fill="url(#plate)" stroke="#141414" stroke-width="1.8"/>
<!-- right side posts -->
<g fill="none">
<path d="M915.7,612 L915.7,384" stroke="#141414" stroke-width="10.5"/>
<path d="M915.7,612 L915.7,384" stroke="#a3a3a3" stroke-width="7.5"/>
<path d="M938,646 L938,406" stroke="#141414" stroke-width="10.5"/>
<path d="M938,646 L938,406" stroke="#a3a3a3" stroke-width="7.5"/>
<path d="M913.6,530 L939,557" stroke="#141414" stroke-width="9"/>
<path d="M913.6,530 L939,557" stroke="#a3a3a3" stroke-width="6"/>
<path d="M956,704 L956,414 L915.7,384" stroke="#141414" stroke-width="11.5"/>
<path d="M956,704 L956,414 L915.7,384" stroke="#a3a3a3" stroke-width="8.5"/>
<!-- mid rail (back) -->
<path d="M735,528 L904,528" stroke="#141414" stroke-width="11" stroke-linecap="butt"/>
<path d="M735,528 L904,528" stroke="#a3a3a3" stroke-width="8" stroke-linecap="butt"/>
<!-- back arch -->
<path d="M722.75,612 L722.75,400 Q722.75,380 742.75,380 L886.3,380 Q906.3,380 906.3,400 L906.3,612" stroke="#141414" stroke-width="10.5" stroke-linecap="butt"/>
<path d="M722.75,611 L722.75,400 Q722.75,380 742.75,380 L886.3,380 Q906.3,380 906.3,400 L906.3,611" stroke="#a3a3a3" stroke-width="7.5" stroke-linecap="butt"/>
<!-- left side posts -->
<path d="M715,700 L715,384" stroke="#141414" stroke-width="9"/>
<path d="M715,700 L715,384" stroke="#a8a8a8" stroke-width="6"/>
<path d="M702.6,704 L702.6,414 L714,383" stroke="#141414" stroke-width="11.5"/>
<path d="M702.6,704 L702.6,414 L714,383" stroke="#a3a3a3" stroke-width="8.5"/>
<!-- lower rail -->
<path d="M716,571.2 L942,571.2" stroke="#141414" stroke-width="12"/>
<path d="M716,571.2 L942,571.2" stroke="#a3a3a3" stroke-width="9"/>
<!-- front arch -->
<path d="M712.7,700 L712.7,483 Q712.7,459 736.7,459 L923.5,459 Q947.5,459 947.5,483 L947.5,700" stroke="#141414" stroke-width="11.5"/>
<path d="M712.7,700 L712.7,483 Q712.7,459 736.7,459 L923.5,459 Q947.5,459 947.5,483 L947.5,700" stroke="#a3a3a3" stroke-width="8.5"/>
</g>
<!-- padding -->
<path d="M763,450.8 Q800,449.6 840,450.6 Q880,451.4 922,450.2 Q925.6,450.6 925.6,455 L925.4,464 Q925.6,468.2 921,468 Q880,467.2 840,468.4 Q800,467.6 764,468.2 Q759.8,468 759.8,463 L760.2,455 Q759.8,450.8 763,450.8 Z" fill="#a7acb1" stroke="#141414" stroke-width="1.9"/>
<path d="M761,462 Q800,461 840,463 Q880,462 925,462 L925,465 Q880,467 840,467.4 Q800,466.6 761,466 Z" fill="#8e9091" opacity="0.85"/>
<g fill="#7a7b7c"><circle cx="772" cy="458" r="0.7"/><circle cx="790" cy="456" r="0.6"/><circle cx="811" cy="459" r="0.8"/><circle cx="835" cy="455" r="0.6"/><circle cx="858" cy="458" r="0.7"/><circle cx="876" cy="454.5" r="0.6"/><circle cx="896" cy="457.5" r="0.8"/><circle cx="913" cy="455" r="0.6"/></g>
<!-- top control box -->
<rect x="752.8" y="384" width="3" height="6" fill="#ddd" stroke="#141414" stroke-width="1"/>
<rect x="775.8" y="384" width="3" height="6" fill="#ddd" stroke="#141414" stroke-width="1"/>
<rect x="726" y="410.5" width="10" height="12.5" fill="#dcdcdc" stroke="#141414" stroke-width="1.4"/>
<rect x="735.7" y="388.3" width="51.8" height="58.5" rx="1.5" fill="#9a9a9a" stroke="#141414" stroke-width="1.8"/>
<g fill="#1a1a1a"><circle cx="739.4" cy="392.3" r="1.5"/><circle cx="783.3" cy="392.3" r="1.5"/><circle cx="739.6" cy="443" r="1.5"/><circle cx="783.3" cy="443" r="1.5"/></g>
<!-- left control box -->
<path d="M716.6,473.7 L739,480 Q741.5,481 741.5,484 L741.5,534 Q741.5,537 738.5,537 L716.6,537 Z" fill="#9a9a9a" stroke="#141414" stroke-width="1.8"/>
<path d="M716.6,479.5 L738,486" fill="none" stroke="#141414" stroke-width="1.3"/>
<line x1="741.5" y1="501.5" x2="749.5" y2="501.5" stroke="#141414" stroke-width="3.5"/>
<line x1="741.5" y1="501.5" x2="749.5" y2="501.5" stroke="#9a9a9a" stroke-width="1.5"/>
<ellipse cx="753.4" cy="501.5" rx="4.2" ry="6.4" fill="#e2553f" stroke="#141414" stroke-width="1.4"/>
<!-- front edge plate -->
<rect x="707.7" y="696" width="243.9" height="27.9" fill="#a6a6a6" stroke="#141414" stroke-width="1.8"/>
<rect x="698.6" y="704.7" width="16.4" height="19.2" fill="#a6a6a6" stroke="#141414" stroke-width="1.8"/>
<rect x="943.6" y="704.7" width="15.9" height="19.2" fill="#a6a6a6" stroke="#141414" stroke-width="1.8"/>
</g>

<!-- RIGHT BASE -->
<g id="rbase" stroke="#141414" stroke-width="2.5" fill="#6a6a6a">
<rect x="646.3" y="750.3" width="69.7" height="31.4"/>
<rect x="915.4" y="750.3" width="66.2" height="31.4"/>
<path d="M672.6,244.5 L690.7,244.5 L690.7,726.8 L956.3,726.8 L956.3,750 L672.6,750 Z"/>
</g>

<!-- CALLOUT LINES (on top) -->
<g stroke="#1c1c1c" stroke-width="1.7" fill="none">
<line x1="259.5" y1="170" x2="259.5" y2="305"/>
<line x1="731" y1="159" x2="731" y2="398"/>
<line x1="771.7" y1="684" x2="771.7" y2="800"/>
<line x1="154" y1="664" x2="154" y2="823"/>
</g>
<circle cx="259.5" cy="305" r="1.8" fill="#1c1c1c"/>
<circle cx="771.7" cy="684" r="2.5" fill="#141414"/>
</svg>
</body></html>
